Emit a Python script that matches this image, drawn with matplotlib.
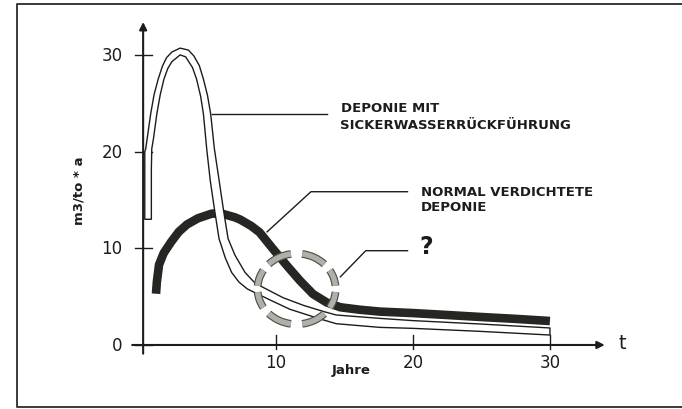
import matplotlib
matplotlib.use("Agg")
import matplotlib.pyplot as plt
import matplotlib.patheffects as pe
from matplotlib.lines import Line2D
from matplotlib.patches import Arc, Polygon


# Deponie mit Sickerwasserrückführung: drawn as an outlined white band,
# so the upper and lower edge are kept as two separate lines.
recirc_upper_t = [0.42, 0.42, 0.49, 0.85, 1.1, 1.4, 1.7, 2.0, 2.4, 3.0, 3.6, 4.0, 4.4,
                  4.7, 5.0, 5.23, 5.5, 5.85, 6.15, 6.5, 7.0, 7.74, 8.4, 9.0, 10.5, 12.0,
                  13.5, 14.4, 17.6, 20.0, 24.9, 30.0]
recirc_upper_y = [13.0, 20.0, 20.3, 23.9, 25.9, 27.5, 28.8, 29.7, 30.3, 30.7, 30.5, 29.9,
                  28.9, 27.5, 25.8, 23.9, 20.3, 17.0, 14.1, 11.0, 9.3, 7.5, 6.5, 6.0,
                  4.9, 4.1, 3.45, 3.1, 2.75, 2.52, 2.17, 1.76]
recirc_lower_t = [0.9, 0.9, 0.93, 1.05, 1.3, 1.55, 1.82, 2.1, 2.4, 3.0, 3.4, 3.9, 4.2,
                  4.5, 4.7, 4.94, 5.2, 5.5, 5.84, 6.3, 6.76, 7.3, 7.9, 9.5, 11.0, 13.2,
                  14.4, 17.6, 20.0, 24.9, 30.0]
recirc_lower_y = [13.0, 18.2, 20.3, 21.3, 23.9, 25.9, 27.5, 28.6, 29.3, 30.0, 29.8, 28.7,
                  27.5, 25.7, 23.9, 20.3, 17.0, 14.1, 11.0, 9.0, 7.5, 6.5, 5.8, 4.7,
                  3.7, 2.7, 2.2, 1.82, 1.72, 1.41, 1.03]

# Normal verdichtete Deponie (thick black curve)
normal_t = [1.24, 1.3, 1.46, 1.8, 2.34, 2.9, 3.5, 4.3, 5.3, 6.0, 7.0, 7.4, 8.2, 8.8,
            9.8, 10.8, 11.75, 12.7, 13.7, 14.7, 16.1, 17.6, 20.0, 22.5, 24.9, 27.5, 30.0]
normal_y = [5.3, 6.5, 8.3, 9.5, 10.65, 11.7, 12.46, 13.1, 13.58, 13.6, 13.2, 12.96,
            12.3, 11.65, 9.9, 8.2, 6.65, 5.27, 4.4, 3.9, 3.65, 3.45, 3.3, 3.1, 2.9,
            2.7, 2.48]

x_ticks = [10, 20, 30]
y_ticks = [0, 10, 20, 30]

label_recirc = ["DEPONIE MIT", "SICKERWASSERRÜCKFÜHRUNG"]
label_normal = ["NORMAL VERDICHTETE", "DEPONIE"]

INK = "#1c1c1a"
BAND = "#262622"

fig = plt.figure(figsize=(6.82, 4.10), dpi=100)
fig.patch.set_facecolor("white")
ax = fig.add_axes([0, 0, 1, 1])
ax.set_xlim(-10.15, 39.64)
ax.set_ylim(-6.62, 35.78)
ax.axis("off")

# frame around the picture
fig.add_artist(Line2D([1.0, 0.0249, 0.0249, 1.0], [0.988, 0.988, 0.005, 0.005],
                      transform=fig.transFigure, color="#3a3a3a", lw=1.4))

# axes with arrows
arrow = dict(arrowstyle="-|>", color=INK, lw=1.5, mutation_scale=11, shrinkA=0, shrinkB=0)
ax.annotate("", xy=(34.0, 0), xytext=(-0.5, 0), arrowprops=arrow)
ax.annotate("", xy=(0.3, 33.4), xytext=(0.3, -0.9), arrowprops=arrow)

for x in x_ticks:
    ax.plot([x, x], [-0.4, 1.0], color=INK, lw=1.0)
    ax.text(x, -1.8, str(x), ha="center", va="center", fontsize=12, color=INK)
for y in y_ticks:
    ax.plot([-0.3, 0.93], [y, y], color=INK, lw=1.0)
    ax.text(-1.2, y, str(y), ha="right", va="center", fontsize=12, color=INK)

ax.text(35.3, 0.3, "t", ha="center", va="center", fontsize=14, color=INK)
ax.text(15.5, -2.5, "Jahre", ha="center", va="center", fontsize=9.5,
        fontweight="bold", color=INK)
ax.text(-4.4, 16.1, "m3/to * a", ha="center", va="center", rotation=90,
        fontsize=9.5, fontweight="bold", color=INK)

# curves
ax.plot(normal_t, normal_y, color=BAND, lw=6.2, solid_capstyle="butt",
        solid_joinstyle="round", zorder=3)
band_t = recirc_upper_t + recirc_lower_t[::-1]
band_y = recirc_upper_y + recirc_lower_y[::-1]
ax.add_patch(Polygon(list(zip(band_t, band_y)), closed=True, facecolor="white",
                     edgecolor=INK, lw=1.0, joinstyle="round", zorder=4))

# dashed circle around the question region
for k in range(8):
    mid = 22.5 + 45 * k
    ax.add_patch(Arc((11.5, 5.8), 5.7, 7.3, theta1=mid - 16, theta2=mid + 16,
                     color="#b0b0ab", lw=3.9, zorder=6,
                     path_effects=[pe.Stroke(linewidth=5.6, foreground="#505049"),
                                   pe.Normal()]))

# leader lines and labels
ax.plot([5.3, 13.7], [23.85, 23.85], color=INK, lw=1.0, zorder=5)
ax.plot([9.35, 12.55, 19.6], [11.7, 15.85, 15.85], color=INK, lw=1.0, zorder=5)
ax.plot([14.7, 16.55, 19.6], [7.05, 9.75, 9.75], color=INK, lw=1.0, zorder=5)

text_style = dict(ha="left", va="center", fontsize=9.5, fontweight="bold", color=INK)
ax.text(14.75, 24.6, label_recirc[0], **text_style)
ax.text(14.65, 22.8, label_recirc[1], **text_style)
ax.text(20.6, 15.9, label_normal[0], **text_style)
ax.text(20.6, 14.35, label_normal[1], **text_style)
ax.text(20.5, 10.2, "?", ha="left", va="center", fontsize=17, fontweight="bold",
        color=INK)

fig.savefig("out.png", dpi=100)
